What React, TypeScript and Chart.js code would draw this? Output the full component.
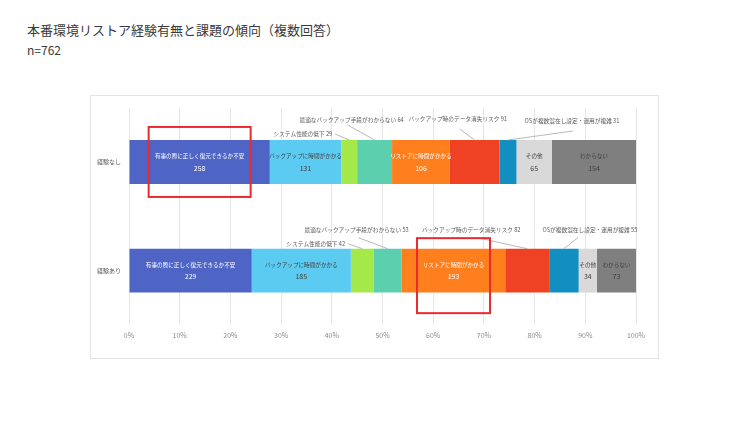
import React, { useEffect, useRef } from 'react';
import { Chart, registerables } from 'chart.js';

Chart.register(...registerables);

const categories = ['経験なし', '経験あり'];
const seriesNames = [
  '有事の際に正しく復元できるか不安',
  'バックアップに時間がかかる',
  'システム性能の低下',
  '最適なバックアップ手段がわからない',
  'リストアに時間がかかる',
  'バックアップ時のデータ消失リスク',
  'OSが複数混在し設定・運用が複雑',
  'その他',
  'わからない',
];
const seriesColors = ['#4f65c6', '#5ccbf1', '#a5e84a', '#5ccfae', '#ff7f1e', '#ef4224', '#128fc0', '#d9d9d9', '#7f7f7f'];

const restoreAnxiety = [258, 229];
const backupTime = [131, 185];
const perfDrop = [29, 42];
const unknownMethod = [64, 53];
const restoreTime = [106, 193];
const dataLossRisk = [91, 82];
const multiOs = [31, 55];
const other = [65, 34];
const dontKnow = [154, 73];
const seriesValues = [restoreAnxiety, backupTime, perfDrop, unknownMethod, restoreTime, dataLossRisk, multiOs, other, dontKnow];
const xTicks = [0, 10, 20, 30, 40, 50, 60, 70, 80, 90, 100];

const FONT = '"Noto Sans CJK JP", "Noto Sans", sans-serif';

// inside labels: dataset index -> text colour
const insideLabels = [
  { ds: 0, color: '#ffffff' },
  { ds: 1, color: '#404040' },
  { ds: 4, color: '#ffffff' },
  { ds: 7, color: '#404040' },
  { ds: 8, color: '#404040' },
];

// callouts relative to segment top-centre
const callouts = [
  { ds: 2, row: 0, tx: -17, ty: -6, align: 'right', lx: -14, ly: -6 },
  { ds: 3, row: 0, tx: -23, ty: -20, align: 'center', lx: -27, ly: -15 },
  { ds: 5, row: 0, tx: -17, ty: -21, align: 'center', lx: -15, ly: -11 },
  { ds: 6, row: 0, tx: 64, ty: -19, align: 'center', lx: 65, ly: -9 },
  { ds: 2, row: 1, tx: -17, ty: -5, align: 'right', lx: -14, ly: -5 },
  { ds: 3, row: 1, tx: -31, ty: -19, align: 'center', lx: -29, ly: -11 },
  { ds: 5, row: 1, tx: -56, ty: -19, align: 'center', lx: -50, ly: -11 },
  { ds: 6, row: 1, tx: 26, ty: -19, align: 'center', lx: 14, ly: -11 },
];

const highlights = [
  { ds: 0, row: 0, w: 102, h: 70, dy: 0 },
  { ds: 4, row: 1, w: 73, h: 75, dy: 5 },
];

const rowTotals = categories.map((_, i) => seriesValues.reduce((s, arr) => s + arr[i], 0));

const labelPlugin = {
  id: 'labelPlugin',
  afterDatasetsDraw(chart: any) {
    const ctx = chart.ctx;
    ctx.save();
    ctx.textBaseline = 'middle';
    insideLabels.forEach(({ ds, color }) => {
      const meta = chart.getDatasetMeta(ds);
      meta.data.forEach((el: any, i: number) => {
        const cx = (el.x + el.base) / 2;
        const cy = el.y;
        ctx.fillStyle = color;
        ctx.textAlign = 'center';
        ctx.font = `5.6px ${FONT}`;
        ctx.fillText(seriesNames[ds], cx, cy - 6);
        ctx.font = `7px ${FONT}`;
        ctx.fillText(String(seriesValues[ds][i]), cx, cy + 6);
      });
    });
    callouts.forEach((c) => {
      const el: any = chart.getDatasetMeta(c.ds).data[c.row];
      const cx = (el.x + el.base) / 2;
      const top = el.y - el.height / 2;
      ctx.strokeStyle = '#a6a6a6';
      ctx.lineWidth = 0.8;
      ctx.beginPath();
      ctx.moveTo(cx + c.lx, top + c.ly);
      ctx.lineTo(cx, top);
      ctx.stroke();
      ctx.fillStyle = '#595959';
      ctx.font = `5.7px ${FONT}`;
      ctx.textAlign = c.align;
      ctx.fillText(`${seriesNames[c.ds]} ${seriesValues[c.ds][c.row]}`, cx + c.tx, top + c.ty);
    });
    highlights.forEach((h) => {
      const el: any = chart.getDatasetMeta(h.ds).data[h.row];
      const cx = (el.x + el.base) / 2;
      const cy = el.y + h.dy;
      ctx.strokeStyle = '#ea2a2f';
      ctx.lineWidth = 2;
      ctx.strokeRect(cx - h.w / 2, cy - h.h / 2, h.w, h.h);
    });
    ctx.restore();
  },
};

export default function App() {
  const ref = useRef<HTMLCanvasElement>(null);
  useEffect(() => {
    if (!ref.current) return;
    const chart = new Chart(ref.current, {
      type: 'bar',
      data: {
        labels: categories,
        datasets: seriesNames.map((name, k) => ({
          label: name,
          data: seriesValues[k].map((v, i) => (v / rowTotals[i]) * 100),
          backgroundColor: seriesColors[k],
          borderWidth: 0,
          barPercentage: 0.404,
          categoryPercentage: 1,
        })),
      },
      options: {
        indexAxis: 'y',
        animation: false,
        responsive: false,
        maintainAspectRatio: false,
        layout: { padding: { top: 11, right: 22, left: 0, bottom: 0 } },
        plugins: { legend: { display: false }, tooltip: { enabled: false } },
        scales: {
          x: {
            stacked: true,
            min: 0,
            max: 100,
            afterBuildTicks: (scale: any) => {
              scale.ticks = xTicks.map((v) => ({ value: v }));
            },
            afterFit: (scale: any) => {
              scale.height = 33;
            },
            ticks: {
              callback: (v: any) => `${v}%`,
              color: '#8c8c8c',
              font: { size: 7, family: FONT },
              padding: 6,
              maxRotation: 0,
            },
            grid: { color: '#e6e6e6', drawTicks: false, lineWidth: 1 },
            border: { display: false },
          },
          y: {
            stacked: true,
            afterFit: (scale: any) => {
              scale.width = 38;
            },
            ticks: { color: '#595959', font: { size: 6, family: FONT }, padding: 8 },
            grid: { display: false, drawTicks: false },
            border: { display: false },
          },
        },
      },
      plugins: [labelPlugin],
    });
    return () => chart.destroy();
  }, []);

  return (
    <div style={{ position: 'absolute', left: 0, top: 0, width: 750, height: 421, background: '#ffffff', fontFamily: FONT }}>
      <div style={{ position: 'absolute', left: 27, top: 21, fontSize: 13, lineHeight: '18px', color: '#3a3a3a', whiteSpace: 'nowrap' }}>
        本番環境リストア経験有無と課題の傾向（複数回答）
      </div>
      <div style={{ position: 'absolute', left: 27, top: 41, fontSize: 12, lineHeight: '18px', color: '#3a3a3a' }}>n=762</div>
      <div style={{ position: 'absolute', left: 90, top: 95, width: 567, height: 262, border: '1px solid #e3e3e3', background: '#ffffff' }}>
        <canvas ref={ref} width={567} height={262} style={{ display: 'block', width: 567, height: 262 }} />
      </div>
    </div>
  );
}
